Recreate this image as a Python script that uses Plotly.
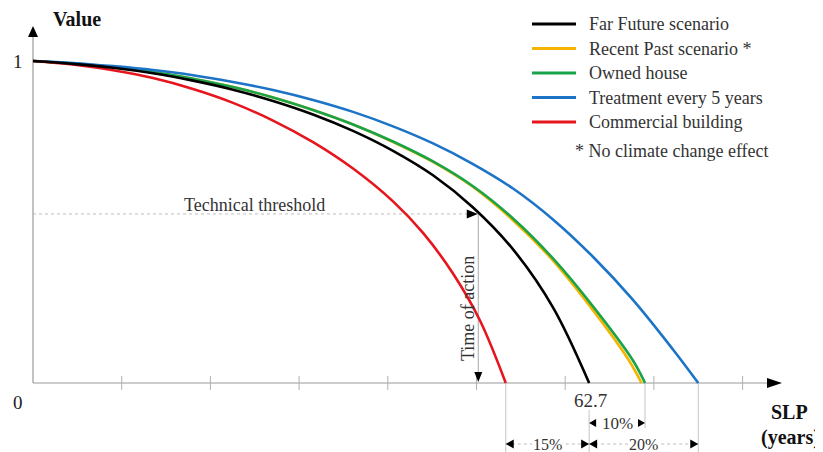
import plotly.graph_objects as go

# ---------------- data ----------------
series_names = ["Far Future scenario", "Recent Past scenario *", "Owned house",
                "Treatment every 5 years", "Commercial building"]
series_colors = ["#000000", "#F4B400", "#1BA34A", "#1B74C6", "#E5161D"]

years_far = [0, 4.51, 9.02, 13.53, 18.04, 22.55, 27.06, 31.57, 36.08, 40.59, 45.10, 49.61, 54.12, 58.62, 62.7]
value_far = [1.0, 0.991, 0.979, 0.962, 0.939, 0.911, 0.876, 0.834, 0.783, 0.721, 0.645, 0.545, 0.415, 0.235, 0.0]

years_past = [0, 4.51, 9.02, 13.53, 18.04, 22.55, 27.06, 31.57, 36.08, 40.47, 44.98, 49.49, 53.89, 58.40, 62.80, 67.19, 68.6]
value_past = [1.0, 0.992, 0.981, 0.966, 0.945, 0.919, 0.887, 0.848, 0.803, 0.750, 0.688, 0.611, 0.511, 0.387, 0.238, 0.070, 0.0]

years_own = [0, 4.51, 9.02, 13.53, 18.04, 22.55, 27.06, 31.57, 36.08, 40.59, 45.10, 49.61, 54.12, 58.62, 63.13, 67.64, 69.0]
value_own = [1.0, 0.992, 0.981, 0.966, 0.945, 0.919, 0.887, 0.848, 0.803, 0.750, 0.688, 0.611, 0.511, 0.387, 0.238, 0.070, 0.0]

years_treat = [0, 4.51, 9.02, 13.53, 18.04, 22.55, 27.06, 31.57, 36.08, 40.59, 45.10, 49.61, 54.12, 58.62, 63.13, 67.64, 72.15, 75.0]
value_treat = [1.0, 0.994, 0.984, 0.972, 0.956, 0.935, 0.910, 0.879, 0.842, 0.797, 0.744, 0.680, 0.604, 0.508, 0.392, 0.258, 0.104, 0.0]

years_com = [0, 4.51, 9.02, 13.53, 18.04, 22.55, 27.06, 31.57, 36.08, 40.59, 43.97, 47.35, 50.39, 53.3]
value_com = [1.0, 0.989, 0.971, 0.947, 0.913, 0.870, 0.815, 0.748, 0.666, 0.564, 0.466, 0.340, 0.194, 0.0]

x_ticks = [10, 20, 30, 40, 50, 60, 70, 80]
threshold = 0.525
time_of_action = 50.2
label_far_end = "62.7"

# ---------------- helpers: pixel placement of decorations ----------------
# page pixel -> data units (the page body has an 8 px margin)
PX0, SX, PY0, SY = 33.0, 8.87, 383.0, 322.0
PAGE_W, PAGE_H, BODY_MARGIN = 823, 452, 8
W, H = PAGE_W - BODY_MARGIN, PAGE_H - BODY_MARGIN


def dx(px):
    return (px - PX0) / SX


def dy(py):
    return (PY0 - py) / SY


def px_of(x):
    return PX0 + x * SX


def tri(tx, ty, d, L, Wd):
    if d == "r":
        pts = [(tx, ty), (tx - L, ty - Wd / 2), (tx - L, ty + Wd / 2)]
    elif d == "l":
        pts = [(tx, ty), (tx + L, ty - Wd / 2), (tx + L, ty + Wd / 2)]
    elif d == "u":
        pts = [(tx, ty), (tx - Wd / 2, ty + L), (tx + Wd / 2, ty + L)]
    else:
        pts = [(tx, ty), (tx - Wd / 2, ty - L), (tx + Wd / 2, ty - L)]
    path = "M " + " L ".join(f"{dx(x):.4f},{dy(y):.4f}" for x, y in pts) + " Z"
    return dict(type="path", path=path, xref="x", yref="y",
                fillcolor="#000000", line=dict(width=0), layer="above")


def hline(x0, x1, y, color, width=1, dash="solid", layer="below"):
    return dict(type="line", xref="x", yref="y", x0=x0, x1=x1, y0=y, y1=y,
                line=dict(color=color, width=width, dash=dash), layer=layer)


def vline(x, y0, y1, color, width=1, dash="solid", layer="below"):
    return dict(type="line", xref="x", yref="y", x0=x, x1=x, y0=y0, y1=y1,
                line=dict(color=color, width=width, dash=dash), layer=layer)


SERIF = "Liberation Serif, Times New Roman, serif"

fig = go.Figure()

data = {
    "Far Future scenario": (years_far, value_far),
    "Recent Past scenario *": (years_past, value_past),
    "Owned house": (years_own, value_own),
    "Treatment every 5 years": (years_treat, value_treat),
    "Commercial building": (years_com, value_com),
}
color_of = dict(zip(series_names, series_colors))

# axis ticks
fig.add_trace(go.Scatter(x=x_ticks, y=[0] * len(x_ticks), mode="markers",
                         marker=dict(symbol="line-ns", size=10,
                                     line=dict(width=1, color="#b0b0b0")),
                         hoverinfo="skip", showlegend=False))

draw_order = ["Recent Past scenario *", "Owned house", "Treatment every 5 years",
              "Commercial building", "Far Future scenario"]
for name in draw_order:
    xs, ys = data[name]
    fig.add_trace(go.Scatter(x=xs, y=ys, mode="lines", name=name,
                             line=dict(color=color_of[name], width=2.6,
                                       shape="spline", smoothing=1.0),
                             showlegend=False))

shapes = []
annotations = []

# axes
shapes.append(hline(0, dx(768), 0, "#cccccc", 2))
shapes.append(tri(782, PY0, "r", 15, 10))
shapes.append(vline(0, 0, dy(36), "#9a9a9a", 1.2))
shapes.append(tri(PX0, 26, "u", 11, 10))

# threshold & time of action
thr_py = PY0 - threshold * SY
shapes.append(hline(0, time_of_action - 1.2, threshold, "#bdbdbd", 1, "dot"))
shapes.append(tri(px_of(time_of_action) - 0.5, thr_py, "r", 11, 9))
shapes.append(vline(time_of_action, threshold, dy(372), "#a8a8a8", 1))
shapes.append(tri(px_of(time_of_action), 382, "d", 10, 8))

red_end = years_com[-1]
far_end = years_far[-1]
own_end = years_own[-1]
treat_end = years_treat[-1]

# dimension lines under the axis
shapes.append(vline(red_end, 0, dy(452), "#c4c4c4", 1))
shapes.append(vline(far_end, dy(410), dy(452), "#c4c4c4", 1))
shapes.append(vline(own_end, 0, dy(428), "#c4c4c4", 1))
shapes.append(vline(treat_end, 0, dy(452), "#c4c4c4", 1))

p15 = f"{round((far_end - red_end) / far_end * 100)}%"
p10 = f"{round((own_end - far_end) / far_end * 100)}%"
p20 = f"{round((treat_end - far_end) / far_end * 100)}%"

y10, y15 = 423, 444
shapes.append(tri(px_of(far_end), y10, "l", 7, 8))
shapes.append(tri(px_of(own_end), y10, "r", 7, 8))
shapes.append(tri(px_of(red_end), y15, "l", 8, 9))
shapes.append(tri(px_of(far_end), y15, "r", 8, 9))
shapes.append(tri(px_of(far_end), y15, "l", 8, 9))
shapes.append(tri(px_of(treat_end), y15, "r", 8, 9))
shapes.append(hline(red_end, far_end, dy(y15), "#bdbdbd", 1, "dot"))
shapes.append(hline(far_end, treat_end, dy(y15), "#bdbdbd", 1, "dot"))


def ann(text, px, py, size=18, color="#333333", bold=False, xanchor="center",
        yanchor="middle", angle=0, bg=None):
    a = dict(text=f"<b>{text}</b>" if bold else text, x=dx(px), y=dy(py),
             xref="x", yref="y", showarrow=False, xanchor=xanchor,
             yanchor=yanchor, textangle=angle,
             font=dict(family=SERIF, size=size, color=color))
    if bg:
        a["bgcolor"] = bg
        a["borderpad"] = 0
    annotations.append(a)


ann(p10, (px_of(far_end) + px_of(own_end)) / 2, y10, size=17)
ann(p15, (px_of(far_end) + px_of(red_end)) / 2, y15, size=16, bg="white")
ann(p20, (px_of(far_end) + px_of(treat_end)) / 2, y15, size=16, bg="white")

ann("Value", 77, 19, size=20, color="#111111", bold=True)
ann("SLP", 789, 412, size=20, color="#111111", bold=True)
ann("(years)", 790, 437, size=20, color="#111111", bold=True)
ann("1", 18, 61, size=19, color="#222222")
ann("0", 18, 402, size=19, color="#222222")
ann(label_far_end, 590, 400, size=19, color="#333333")
ann("Technical threshold", 254, 205)
ann("Time of action", 468, 309, angle=-90)

# legend (drawn manually to match the original layout)
for i, name in enumerate(series_names):
    ry = 24 + 24.5 * i
    shapes.append(dict(type="line", xref="x", yref="y", x0=dx(532), x1=dx(576),
                       y0=dy(ry), y1=dy(ry),
                       line=dict(color=color_of[name], width=3), layer="above"))
    ann(name, 587, ry, xanchor="left")
ann("* No climate change effect", 573, 151, xanchor="left")

fig.update_layout(
    width=W, height=H, margin=dict(l=0, r=0, t=0, b=0),
    paper_bgcolor="white", plot_bgcolor="white",
    xaxis=dict(range=[dx(BODY_MARGIN), dx(PAGE_W)], visible=False),
    yaxis=dict(range=[dy(PAGE_H), dy(BODY_MARGIN)], visible=False),
    shapes=shapes, annotations=annotations, showlegend=False,
)

fig.write_html("out.html")
